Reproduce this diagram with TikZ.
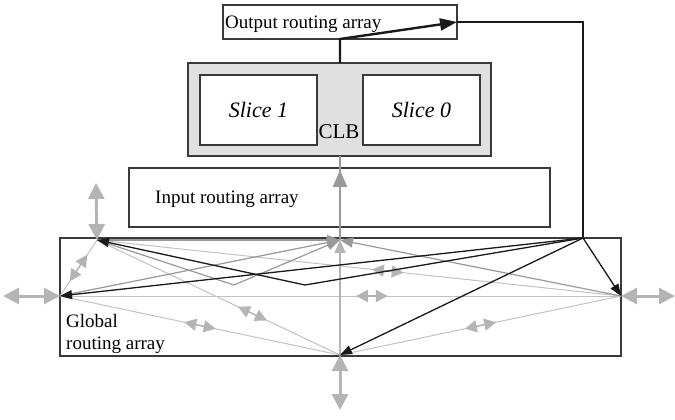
\documentclass[tikz,border=0pt]{standalone}
\usepackage{fontspec}
\setmainfont{Liberation Serif}
\usetikzlibrary{arrows.meta,calc}
\definecolor{lg}{HTML}{B4B4B4}
\definecolor{tg}{HTML}{C2C2C2}
\definecolor{mg}{HTML}{999999}
\definecolor{bx}{HTML}{3A3A3A}
\definecolor{clbfill}{HTML}{E0E0E0}
\newcommand\dblmark[3]{\draw[midarr] ($(#1)!#3!(#2)!-16pt!(#2)$) -- ($(#1)!#3!(#2)!16pt!(#2)$);}
\begin{document}
\begin{tikzpicture}[x=1pt,y=-1pt,
  box/.style={draw=bx, line width=1.3pt, inner sep=0pt, outer sep=0pt},
  lbl/.style={inner sep=0pt, font=\fontsize{19}{22}\selectfont},
  bigdbl/.style={draw=lg, line width=3pt, {Triangle[length=16pt,width=16pt]}-{Triangle[length=16pt,width=16pt]}},
  thinl/.style={draw=tg, line width=1pt},
  midarr/.style={draw=lg, line width=1.5pt, {Triangle[length=12pt,width=12pt]}-{Triangle[length=12pt,width=12pt]}},
  gto/.style={draw=mg, line width=1.2pt, -{Triangle[length=13pt,width=10pt]}},
  blk/.style={draw=black!90, line width=1.3pt, -{Triangle[length=12pt,width=9pt]}},
  blkthick/.style={draw=black!90, line width=2.4pt},
]
\useasboundingbox (0,0) rectangle (675,420);

% boxes
\node[box, minimum width=234pt, minimum height=34pt] (outbox) at (340,22) {};
\node[box, fill=clbfill, minimum width=303pt, minimum height=93pt] (clb) at (339.5,109.5) {};
\node[box, fill=white, minimum width=117pt, minimum height=70pt] (slice1) at (258.5,110) {};
\node[box, fill=white, minimum width=117pt, minimum height=70pt] (slice0) at (421.5,110) {};
\node[box, minimum width=421pt, minimum height=59pt] (inbox) at (339.5,197.5) {};
\node[box, minimum width=561pt, minimum height=118pt] (glob) at (340.5,297) {};

% texts
\node[lbl, anchor=base west] (touts) at (225,29) {Output routing array};
\node[lbl, font=\fontsize{22}{26}\selectfont\itshape] (ts1) at (slice1) {Slice 1};
\node[lbl, font=\fontsize{22}{26}\selectfont\itshape] (ts0) at (slice0) {Slice 0};
\node[lbl, anchor=base, font=\fontsize{21}{24}\selectfont] (tclb) at (339,139) {CLB};
\node[lbl, anchor=base west] (tin) at (155,203) {Input routing array};
\node[lbl, anchor=base west] (tg1) at (66,327) {Global};
\node[lbl, anchor=base west] (tg2) at (66,349) {routing array};

% points
\coordinate (TL) at (97,240);
\coordinate (L) at (60,296);
\coordinate (T) at (340,240);
\coordinate (B) at (340,355);
\coordinate (R) at (621,296);
\coordinate (hub) at (583,238);
\coordinate (corner) at (583,22);
\coordinate (k1) at (305,285);
\coordinate (k2) at (234,285);
\coordinate (clbtop) at (340,63);
\coordinate (outbot) at (340,39);
\coordinate (outR) at (457,22);
\coordinate (clbbot) at (340,156);
\coordinate (inup) at (340,170);
\coordinate (TLup) at (96,183);
\coordinate (Lout) at (3,296);
\coordinate (Rout) at (675,296);
\coordinate (Bout) at (340,410);

% thin light lines with double marks
\draw[thinl] (TL) -- (L);
\draw[thinl] (TL) -- (B);
\draw[thinl] (L) -- (B);
\draw[thinl] (L) -- (R);
\draw[thinl] (TL) -- (R);
\draw[thinl] (B) -- (R);
\dblmark{L}{TL}{0.5}
\dblmark{TL}{B}{0.64}
\dblmark{L}{B}{0.5}
\dblmark{L}{R}{0.556}
\dblmark{TL}{R}{0.555}
\dblmark{B}{R}{0.5}

% vertical line to CLB
\draw[draw=mg, line width=2.2pt] (T) -- (clbbot);
\draw[draw=mg, line width=2.2pt, -{Triangle[length=17pt,width=14pt]}] (T) -- (inup);
\draw[draw=lg, line width=1.5pt, -{Triangle[length=13pt,width=11pt]}] (B) -- (T);

% gray lines to T
\draw[gto] (TL) -- (T);
\draw[gto] (L) -- (T);
\draw[gto] (TL) -- (k2) -- (T);
\draw[gto] (R) -- (T);

% black lines
\draw[blkthick, -{Triangle[length=17pt,width=12pt]}] (clbtop) -- (outbot) -- (outR);
\draw[blkthick] (outR) -- (corner) -- (hub);
\draw[blk] (hub) -- (k1) -- (TL);
\draw[blk] (hub) -- (L);
\draw[blk] (hub) -- (R);
\draw[blk] (hub) -- (B);

% big gray double arrows
\draw[bigdbl] (TLup) -- (TL);
\draw[bigdbl] (Lout) -- (L);
\draw[bigdbl] (R) -- (Rout);
\draw[bigdbl] (B) -- (Bout);
\end{tikzpicture}
\end{document}
